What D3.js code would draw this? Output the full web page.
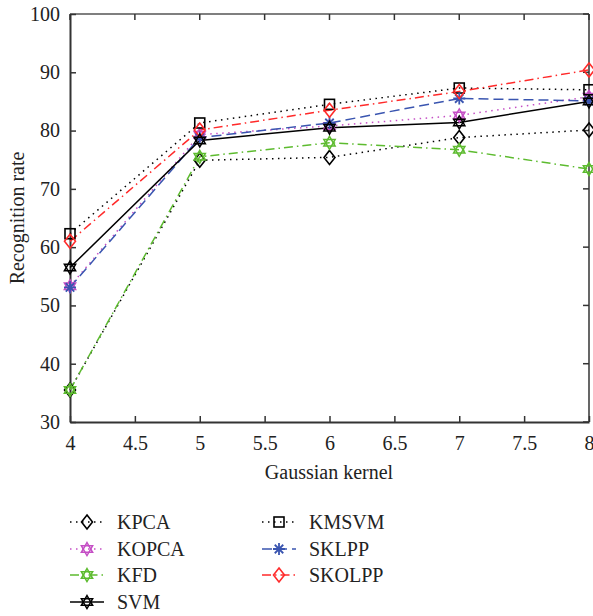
<!DOCTYPE html>
<html><head><meta charset="utf-8">
<script src="https://cdn.jsdelivr.net/npm/d3@7"></script>
<style>body{margin:0;background:#fff}svg{display:block}text{font-family:"Liberation Serif","DejaVu Serif",serif;fill:#222}</style>
</head><body>
<script>
const kernels = [4, 5, 6, 7, 8];
const KPCA   = [35.5, 74.9, 75.4, 78.8, 80.1];
const KOPCA  = [53.3, 79.3, 80.8, 82.6, 85.8];
const KFD    = [35.5, 75.5, 77.9, 76.7, 73.4];
const SVM    = [56.5, 78.3, 80.5, 81.4, 85.0];
const KMSVM  = [62.3, 81.3, 84.5, 87.3, 87.0];
const SKLPP  = [53.1, 78.8, 81.3, 85.5, 85.1];
const SKOLPP = [61.0, 80.1, 83.5, 86.7, 90.4];
const xTicks = [4, 4.5, 5, 5.5, 6, 6.5, 7, 7.5, 8];
const yTicks = [30, 40, 50, 60, 70, 80, 90, 100];

const series = [
  {name:"KPCA", values:KPCA, color:"#000", dash:"1.5,4.5", marker:"diamond", col:0, row:0},
  {name:"KOPCA", values:KOPCA, color:"#c54fc5", dash:"1.5,4.5", marker:"hexagram", col:0, row:1},
  {name:"KFD", values:KFD, color:"#5dbb2f", dash:"9,4,1.5,4", marker:"hexagram", col:0, row:2},
  {name:"SVM", values:SVM, color:"#000", dash:null, marker:"hexagram", col:0, row:3},
  {name:"KMSVM", values:KMSVM, color:"#000", dash:"1.5,4.5", marker:"square", col:1, row:0},
  {name:"SKLPP", values:SKLPP, color:"#3a55b0", dash:"10,5", marker:"asterisk", col:1, row:1},
  {name:"SKOLPP", values:SKOLPP, color:"#ff2a2a", dash:"9,4,1.5,4", marker:"diamond", col:1, row:2}
];

const W = 593, H = 616;
const svg = d3.select("body").append("svg").attr("width", W).attr("height", H);
const x = d3.scaleLinear().domain([4, 8]).range([70, 589]);
const y = d3.scaleLinear().domain([30, 100]).range([422, 14]);

// frame
const g = svg.append("g");
g.append("line").attr("x1",70).attr("x2",589).attr("y1",14).attr("y2",14).attr("stroke","#000").attr("stroke-width",1.2);
g.append("line").attr("x1",589).attr("x2",589).attr("y1",14).attr("y2",422).attr("stroke","#000").attr("stroke-width",1.2);

const xAxis = d3.axisBottom(x).tickValues(xTicks).tickSizeInner(-6).tickSizeOuter(0).tickPadding(14).tickFormat(d3.format("~g"));
const xa = svg.append("g").attr("transform","translate(0,422)").call(xAxis);
xa.select(".domain").attr("stroke","#333").attr("stroke-width",2);
xa.selectAll(".tick line").attr("stroke","#333").attr("stroke-width",1.5);
xa.selectAll(".tick text").attr("font-size",20).attr("fill","#222");

const yAxis = d3.axisLeft(y).tickValues(yTicks).tickSizeInner(-6).tickSizeOuter(0).tickPadding(10);
const ya = svg.append("g").attr("transform","translate(70,0)").call(yAxis);
ya.select(".domain").attr("stroke","#333").attr("stroke-width",2);
ya.selectAll(".tick line").attr("stroke","#333").attr("stroke-width",1.5);
ya.selectAll(".tick text").attr("font-size",20).attr("fill","#222");

// right & top ticks
svg.append("g").selectAll("line").data(yTicks).join("line")
  .attr("x1",589).attr("x2",583).attr("y1",d=>y(d)).attr("y2",d=>y(d)).attr("stroke","#333").attr("stroke-width",1.5);
svg.append("g").selectAll("line").data(xTicks).join("line")
  .attr("y1",14).attr("y2",20).attr("x1",d=>x(d)).attr("x2",d=>x(d)).attr("stroke","#333").attr("stroke-width",1.5);

// labels
svg.append("text").attr("x",329).attr("y",479).attr("text-anchor","middle").attr("font-size",20).text("Gaussian kernel");
svg.append("text").attr("transform","translate(24,218) rotate(-90)").attr("text-anchor","middle").attr("font-size",20).text("Recognition rate");

function drawMarker(sel, type, color, cx, cy) {
  const s = sel.append("g").attr("transform",`translate(${cx},${cy})`);
  if (type === "diamond") {
    s.append("path").attr("d","M0,-7L5.5,0L0,7L-5.5,0Z").attr("fill","none").attr("stroke",color).attr("stroke-width",1.6);
  } else if (type === "square") {
    s.append("rect").attr("x",-5).attr("y",-5).attr("width",10).attr("height",10).attr("fill","none").attr("stroke",color).attr("stroke-width",1.6);
  } else if (type === "hexagram") {
    const r = 6.5;
    const t1 = [0,1,2].map(i=>{const a=-Math.PI/2+i*2*Math.PI/3;return [r*Math.cos(a), r*Math.sin(a)];});
    const t2 = [0,1,2].map(i=>{const a=Math.PI/2+i*2*Math.PI/3;return [r*Math.cos(a), r*Math.sin(a)];});
    s.append("path").attr("d","M"+t1.join("L")+"Z").attr("fill","none").attr("stroke",color).attr("stroke-width",1.5);
    s.append("path").attr("d","M"+t2.join("L")+"Z").attr("fill","none").attr("stroke",color).attr("stroke-width",1.5);
  } else if (type === "asterisk") {
    const r = 6;
    let d = "";
    for (let i=0;i<4;i++){const a=i*Math.PI/4;d+=`M${-r*Math.cos(a)},${-r*Math.sin(a)}L${r*Math.cos(a)},${r*Math.sin(a)}`;}
    s.append("path").attr("d",d).attr("stroke",color).attr("stroke-width",1.8);
  }
}

const line = d3.line().x((d,i)=>x(kernels[i])).y(d=>y(d));
const drawOrder = ["KPCA","KOPCA","KFD","KMSVM","SKLPP","SKOLPP","SVM"];
drawOrder.forEach(n=>{
  const s = series.find(e=>e.name===n);
  svg.append("path").datum(s.values).attr("d",line).attr("fill","none")
    .attr("stroke",s.color).attr("stroke-width",1.5).attr("stroke-dasharray",s.dash);
});
drawOrder.forEach(n=>{
  const s = series.find(e=>e.name===n);
  s.values.forEach((v,i)=>drawMarker(svg, s.marker, s.color, x(kernels[i]), y(v)));
});

// legend
const rowsY = [522, 549, 575, 602];
const colX = [70, 262];
series.forEach(s=>{
  const lx = colX[s.col], ly = rowsY[s.row];
  const lg = svg.append("g");
  lg.append("line").attr("x1",lx).attr("x2",lx+34).attr("y1",ly).attr("y2",ly)
    .attr("stroke",s.color).attr("stroke-width",1.5).attr("stroke-dasharray",s.dash);
  drawMarker(lg, s.marker, s.color, lx+17, ly);
  lg.append("text").attr("x",lx+47).attr("y",ly+7).attr("font-size",20).text(s.name);
});
</script>
</body></html>
